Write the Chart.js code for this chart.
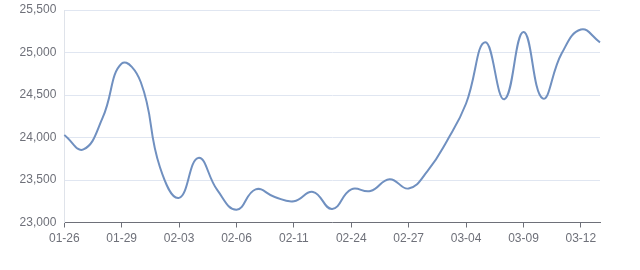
<!DOCTYPE html>
<html>
<head>
<meta charset="utf-8">
<script src="https://cdn.jsdelivr.net/npm/chart.js@4/dist/chart.umd.min.js"></script>
<style>
html,body{margin:0;padding:0;background:#fff;}
#wrap{width:640px;height:270px;position:relative;}
</style>
</head>
<body>
<div id="wrap"><canvas id="c"></canvas></div>
<script>
const categories = ['01-26','01-27','01-28','01-29','01-31','02-01','02-03','02-04','02-05','02-06','02-07','02-08','02-11','02-19','02-21','02-24','02-25','02-26','02-27','02-28','03-01','03-04','03-05','03-07','03-09','03-10','03-11','03-12','03-13'];
const prices = [24030,23860,24230,24870,24650,23650,23290,23760,23380,23150,23390,23300,23250,23360,23160,23390,23370,23510,23400,23610,23960,24400,25120,24450,25240,24460,24990,25270,25120];
const yTicks = [23000,23500,24000,24500,25000,25500];
const labelEvery = 3;

const font = {family: '"Liberation Sans", Arial, sans-serif', size: 12};
new Chart(document.getElementById('c'), {
  type: 'line',
  data: {
    labels: categories,
    datasets: [{
      data: prices,
      borderColor: '#7090c0',
      borderWidth: 2,
      pointRadius: 0,
      pointHoverRadius: 0,
      tension: 0.45,
      fill: false,
      clip: false
    }]
  },
  options: {
    responsive: true,
    maintainAspectRatio: false,
    animation: false,
    layout: {padding: {top: 10, right: 40, bottom: 0, left: 0}},
    plugins: {legend: {display: false}, tooltip: {enabled: false}},
    scales: {
      x: {
        type: 'category',
        offset: false,
        afterFit: s => { s.height = 47.5; s.paddingLeft = 0; s.paddingRight = 0; },
        grid: {drawOnChartArea: false, drawTicks: true, tickLength: 5, color: '#6e7079'},
        border: {display: true, color: '#6e7079', width: 1},
        ticks: {
          autoSkip: false, maxRotation: 0, padding: 4, color: '#6e7079', font: font,
          callback: function(v, i) { return i % labelEvery === 0 ? this.getLabelForValue(v) : null; }
        }
      },
      y: {
        min: yTicks[0], max: yTicks[yTicks.length - 1],
        afterFit: s => { s.width = 64.3; s.paddingTop = 0; s.paddingBottom = 0; },
        afterBuildTicks: s => { s.ticks = yTicks.map(v => ({value: v})); },
        grid: {color: '#e0e6f1', drawTicks: false, lineWidth: 1},
        border: {display: true, color: '#dfe3ea', width: 1},
        ticks: {
          padding: 8, color: '#6e7079', font: font,
          callback: v => v.toLocaleString('en-US')
        }
      }
    }
  }
});
</script>
</body>
</html>
